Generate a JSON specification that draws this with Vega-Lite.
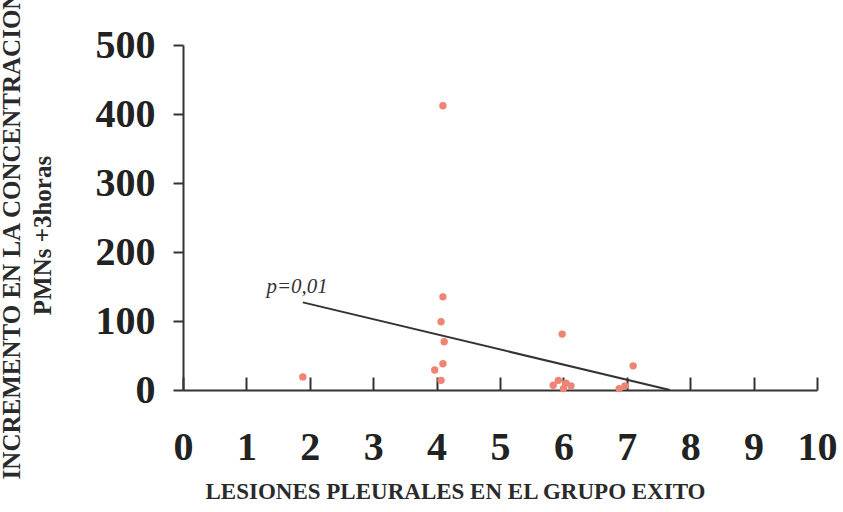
{
  "$schema": "https://vega.github.io/schema/vega-lite/v6.json",
  "width": 634,
  "height": 345,
  "autosize": "none",
  "padding": {"left": 183, "top": 45, "right": 26, "bottom": 122},
  "background": "white",
  "config": {"view": {"stroke": null}, "font": "Liberation Serif"},
  "datasets": {
    "pts": [
      {"x": 1.89, "y": 19},
      {"x": 4.10, "y": 412},
      {"x": 4.10, "y": 135},
      {"x": 4.07, "y": 99},
      {"x": 4.12, "y": 70},
      {"x": 4.10, "y": 38},
      {"x": 3.97, "y": 29},
      {"x": 4.07, "y": 14},
      {"x": 5.98, "y": 81},
      {"x": 7.10, "y": 35},
      {"x": 5.84, "y": 7},
      {"x": 5.92, "y": 14},
      {"x": 6.00, "y": 2},
      {"x": 6.04, "y": 10},
      {"x": 6.12, "y": 6},
      {"x": 6.88, "y": 2},
      {"x": 6.97, "y": 6}
    ],
    "fit": [
      {"x": 1.89, "y": 127},
      {"x": 7.68, "y": 0}
    ],
    "lab": [
      {"x": 1.8, "y": 140, "t": "p=0,01"}
    ]
  },
  "layer": [
    {
      "data": {"name": "pts"},
      "mark": {"type": "point", "filled": true, "size": 55, "color": "#ef8474", "opacity": 1},
      "encoding": {
        "x": {
          "field": "x", "type": "quantitative",
          "scale": {"domain": [0, 10], "nice": false, "zero": false},
          "axis": {
            "title": "LESIONES PLEURALES EN EL GRUPO EXITO",
            "titleFont": "Liberation Serif", "titleFontSize": 23, "titleFontWeight": "bold", "titleColor": "#2a2a2a",
            "titlePadding": 13, "titleX": 272, "titleAlign": "center", "titleAnchor": null,
            "values": [0,1,2,3,4,5,6,7,8,9,10],
            "format": "d",
            "grid": false,
            "domainColor": "#333", "domainWidth": 2,
            "tickColor": "#333", "tickWidth": 2, "tickSize": -13,
            "labelFont": "Liberation Serif", "labelFontSize": 40, "labelFontWeight": "bold", "labelColor": "#222",
            "labelPadding": 50, "labelFlush": false
          }
        },
        "y": {
          "field": "y", "type": "quantitative",
          "scale": {"domain": [0, 500], "nice": false},
          "axis": {
            "title": ["INCREMENTO EN LA CONCENTRACION", "PMNs +3horas"],
            "titleFont": "Liberation Serif", "titleFontSize": 25, "titleFontWeight": "bold", "titleColor": "#2a2a2a",
            "titlePadding": 40, "titleLineHeight": 31,
            "titleY": 190, "titleAlign": "center", "titleAnchor": null,
            "values": [0,100,200,300,400,500],
            "format": "d",
            "grid": false,
            "domainColor": "#333", "domainWidth": 2,
            "tickColor": "#333", "tickWidth": 2, "tickSize": 10,
            "labelFont": "Liberation Serif", "labelFontSize": 40, "labelFontWeight": "bold", "labelColor": "#222",
            "labelPadding": 18, "labelFlush": false
          }
        }
      }
    },
    {
      "data": {"name": "fit"},
      "mark": {"type": "line", "color": "#333", "strokeWidth": 2},
      "encoding": {
        "x": {"field": "x", "type": "quantitative"},
        "y": {"field": "y", "type": "quantitative"}
      }
    },
    {
      "data": {"name": "lab"},
      "mark": {"type": "text", "font": "Liberation Serif", "fontStyle": "italic", "fontSize": 21, "color": "#333", "align": "center", "baseline": "alphabetic"},
      "encoding": {
        "x": {"field": "x", "type": "quantitative"},
        "y": {"field": "y", "type": "quantitative"},
        "text": {"field": "t"}
      }
    }
  ]
}
